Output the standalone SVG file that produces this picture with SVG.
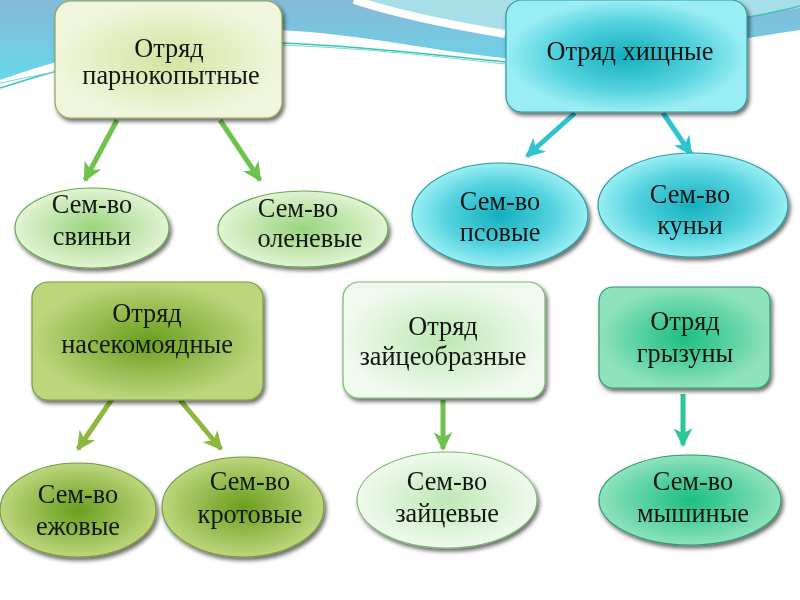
<svg xmlns="http://www.w3.org/2000/svg" width="800" height="600" viewBox="0 0 800 600">
<style>
.t{font-family:"Liberation Serif","Times New Roman",serif;font-size:26.3px;fill:#141414;text-anchor:middle}
.b{stroke-width:1.2}
.c{fill:none;stroke-width:5}
</style>
<defs>
<filter id="sh" x="-10%" y="-10%" width="125%" height="130%">
<feDropShadow dx="2" dy="3" stdDeviation="2" flood-color="#000" flood-opacity="0.6"/>
</filter>
<linearGradient id="sky" x1="0" y1="0" x2="0" y2="1">
<stop offset="0" stop-color="#86b9d8"/><stop offset="1" stop-color="#68d8ea"/>
</linearGradient>
<radialGradient id="g1"><stop offset="0" stop-color="#d3e4a0"/><stop offset="1" stop-color="#f0f6dc"/></radialGradient>
<radialGradient id="g2"><stop offset="0" stop-color="#14afbd"/><stop offset="0.6" stop-color="#52d2de"/><stop offset="1" stop-color="#9aeef3"/></radialGradient>
<radialGradient id="g3"><stop offset="0" stop-color="#6a9e1e"/><stop offset="1" stop-color="#bcd67c"/></radialGradient>
<radialGradient id="g4"><stop offset="0" stop-color="#bde8b4"/><stop offset="1" stop-color="#f0faee"/></radialGradient>
<radialGradient id="g5"><stop offset="0" stop-color="#1cbf80"/><stop offset="1" stop-color="#8ee2bc"/></radialGradient>
<radialGradient id="g6"><stop offset="0" stop-color="#98d47c"/><stop offset="1" stop-color="#e2f4d4"/></radialGradient>
<marker id="mA" viewBox="0 0 18 18" refX="16" refY="9" markerWidth="19" markerHeight="19" markerUnits="userSpaceOnUse" orient="auto"><path d="M0,0 L18,9 L0,18 L5,9 Z" fill="#6ec24e"/></marker>
<marker id="mB" viewBox="0 0 18 18" refX="16" refY="9" markerWidth="19" markerHeight="19" markerUnits="userSpaceOnUse" orient="auto"><path d="M0,0 L18,9 L0,18 L5,9 Z" fill="#2fc3d2"/></marker>
<marker id="mC" viewBox="0 0 18 18" refX="16" refY="9" markerWidth="19" markerHeight="19" markerUnits="userSpaceOnUse" orient="auto"><path d="M0,0 L18,9 L0,18 L5,9 Z" fill="#8cb840"/></marker>
<marker id="mD" viewBox="0 0 18 18" refX="16" refY="9" markerWidth="19" markerHeight="19" markerUnits="userSpaceOnUse" orient="auto"><path d="M0,0 L18,9 L0,18 L5,9 Z" fill="#70c052"/></marker>
<marker id="mE" viewBox="0 0 18 18" refX="16" refY="9" markerWidth="19" markerHeight="19" markerUnits="userSpaceOnUse" orient="auto"><path d="M0,0 L18,9 L0,18 L5,9 Z" fill="#2cc890"/></marker>
</defs>
<rect width="800" height="600" fill="#ffffff"/>
<g id="background">
<path d="M0,0 H800 V30 C720,42 620,62 505,58 C440,52 360,34 280,30 C200,26 100,45 0,80 Z" fill="url(#sky)"/>
<path d="M352,0 C400,14 450,24 505,32 C620,44 720,20 800,8 V0 Z" fill="#a8dee8"/>
<path d="M354,0 C400,15 450,25 505,34" fill="none" stroke="#ffffff" stroke-width="8"/>
<path d="M0,88 C100,55 200,40 280,43 C380,47 450,57 505,62" fill="none" stroke="#3cc4b4" stroke-width="1.5"/>
<path d="M0,83 C100,62 200,44 280,45 C380,49 450,58 505,64" fill="none" stroke="#7fd8d0" stroke-width="1"/>
<path d="M745,18 C765,14 785,10 800,6" fill="none" stroke="#3cc4b4" stroke-width="1.5"/>
</g>
<g id="connectors">
<path class="c" d="M117,120 L85,180" stroke="#6ec24e" marker-end="url(#mA)"/>
<path class="c" d="M220,120 L260,180" stroke="#6ec24e" marker-end="url(#mA)"/>
<path class="c" d="M575,113 L527,156" stroke="#2fc3d2" marker-end="url(#mB)"/>
<path class="c" d="M663,113 L691,154" stroke="#2fc3d2" marker-end="url(#mB)"/>
<path class="c" d="M112,399 L78,449" stroke="#8cb840" marker-end="url(#mC)"/>
<path class="c" d="M180,400 L221,449" stroke="#8cb840" marker-end="url(#mC)"/>
<path class="c" d="M443,400 L443,449" stroke="#70c052" marker-end="url(#mD)"/>
<path class="c" d="M683,394 L683,445" stroke="#2cc890" marker-end="url(#mE)"/>
</g>
<g id="n1" filter="url(#sh)">
<rect x="55" y="1" width="227" height="117" rx="16" fill="url(#g1)" stroke="#94a65a" class="b"/>
<text class="t" x="169" y="57">Отряд</text>
<text class="t" x="171" y="84">парнокопытные</text>
</g>
<g id="n2" filter="url(#sh)">
<rect x="506" y="0" width="241" height="112" rx="16" fill="url(#g2)" stroke="#2a9ea8" class="b"/>
<text class="t" x="630" y="60">Отряд хищные</text>
</g>
<g id="n3" filter="url(#sh)">
<ellipse cx="92" cy="228" rx="77" ry="40" fill="url(#g6)" stroke="#6aaa50" class="b"/>
<text class="t" x="92" y="213">Сем-во</text>
<text class="t" x="92" y="245">свиньи</text>
</g>
<g id="n4" filter="url(#sh)">
<ellipse cx="303" cy="229" rx="85" ry="38" fill="url(#g6)" stroke="#6aaa50" class="b"/>
<text class="t" x="298" y="217">Сем-во</text>
<text class="t" x="310" y="247">оленевые</text>
</g>
<g id="n5" filter="url(#sh)">
<ellipse cx="500" cy="215" rx="88" ry="52" fill="url(#g2)" stroke="#2a9ea8" class="b"/>
<text class="t" x="500" y="210">Сем-во</text>
<text class="t" x="500" y="241">псовые</text>
</g>
<g id="n6" filter="url(#sh)">
<ellipse cx="693" cy="205" rx="95" ry="52" fill="url(#g2)" stroke="#2a9ea8" class="b"/>
<text class="t" x="690" y="203">Сем-во</text>
<text class="t" x="690" y="234">куньи</text>
</g>
<g id="n7" filter="url(#sh)">
<rect x="32" y="282" width="231" height="118" rx="16" fill="url(#g3)" stroke="#7a9a40" class="b"/>
<text class="t" x="147" y="322">Отряд</text>
<text class="t" x="147" y="353">насекомоядные</text>
</g>
<g id="n8" filter="url(#sh)">
<rect x="343" y="282" width="202" height="116" rx="16" fill="url(#g4)" stroke="#7ab870" class="b"/>
<text class="t" x="443" y="335">Отряд</text>
<text class="t" x="443" y="365">зайцеобразные</text>
</g>
<g id="n9" filter="url(#sh)">
<rect x="599" y="287" width="171" height="101" rx="14" fill="url(#g5)" stroke="#2e9c6e" class="b"/>
<text class="t" x="685" y="330">Отряд</text>
<text class="t" x="685" y="362">грызуны</text>
</g>
<g id="n10" filter="url(#sh)">
<ellipse cx="78" cy="510" rx="78" ry="47" fill="url(#g3)" stroke="#7a9a40" class="b"/>
<text class="t" x="78" y="503">Сем-во</text>
<text class="t" x="78" y="535">ежовые</text>
</g>
<g id="n11" filter="url(#sh)">
<ellipse cx="243" cy="507" rx="81" ry="50" fill="url(#g3)" stroke="#7a9a40" class="b"/>
<text class="t" x="250" y="490">Сем-во</text>
<text class="t" x="250" y="523">кротовые</text>
</g>
<g id="n12" filter="url(#sh)">
<ellipse cx="447" cy="500" rx="90" ry="48" fill="url(#g4)" stroke="#7ab870" class="b"/>
<text class="t" x="447" y="490">Сем-во</text>
<text class="t" x="447" y="522">зайцевые</text>
</g>
<g id="n13" filter="url(#sh)">
<ellipse cx="690" cy="500" rx="91" ry="45" fill="url(#g5)" stroke="#2e9c6e" class="b"/>
<text class="t" x="693" y="490">Сем-во</text>
<text class="t" x="693" y="522">мышиные</text>
</g>
</svg>
